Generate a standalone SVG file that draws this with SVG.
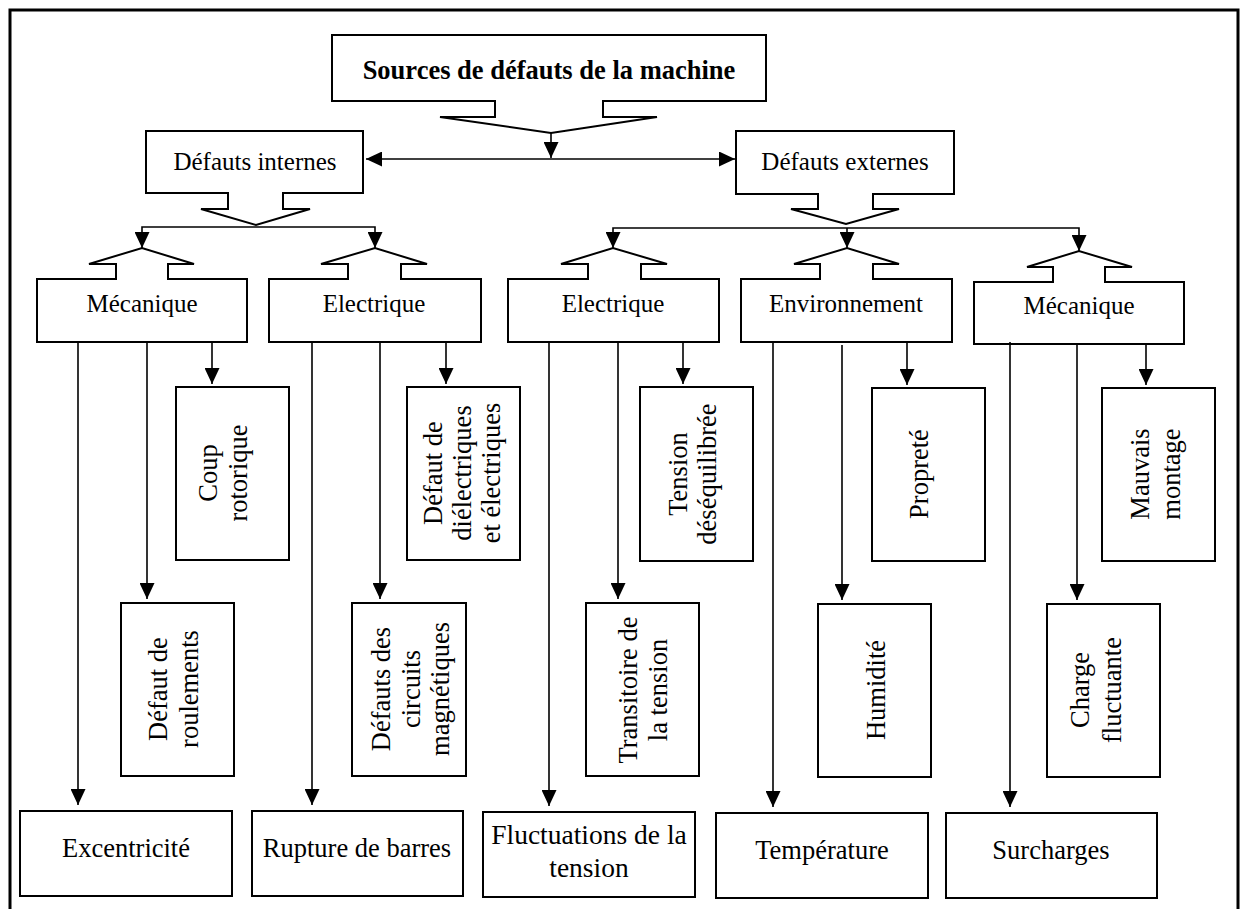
<svg xmlns="http://www.w3.org/2000/svg" width="1247" height="909" viewBox="0 0 1247 909">
<style>
.box{fill:#fff;stroke:#000;stroke-width:2}
.ln{fill:none;stroke:#000;stroke-width:1.6}
.t{font-family:"Liberation Serif","Times New Roman",serif;font-size:25px;fill:#000;text-anchor:middle}
.tv{font-family:"Liberation Serif","Times New Roman",serif;font-size:26.5px;fill:#000;text-anchor:middle}
.tb{font-family:"Liberation Serif","Times New Roman",serif;font-size:26.5px;font-weight:bold;fill:#000;text-anchor:middle}
</style>
<defs>
<marker id="ah" markerUnits="userSpaceOnUse" markerWidth="16" markerHeight="15" refX="16" refY="7.5" orient="auto-start-reverse">
<path d="M0,0 L16,7.5 L0,15 Z" fill="#000"/>
</marker>
</defs>
<rect width="1247" height="909" fill="#fff"/>
<path d="M10,909 V10 H1238 V909" fill="none" stroke="#000" stroke-width="3"/>

<g id="n-sources">
<path class="box" d="M332,35 H766 V101 H603 V117 H657 L551,133 L440,117 H495 V101 H332 Z"/>
<text class="tb" x="549" y="79">Sources de défauts de la machine</text>
</g>
<g id="n-internes">
<path class="box" d="M146,131 H363 V193 H283 V209 H310 L256,225 L201,209 H228 V193 H146 Z"/>
<text class="t" x="255" y="170">Défauts internes</text>
</g>
<g id="n-externes">
<path class="box" d="M736,131 H954 V194 H873 V209 H899 L846,224 L791,209 H818 V194 H736 Z"/>
<text class="t" x="845" y="170">Défauts externes</text>
</g>

<g id="n-int-meca">
<path class="box" d="M37,279 H116 V264 H89 L142,248 L194,264 H168 V279 H247 V342 H37 Z"/>
<text class="t" x="142" y="312">Mécanique</text>
</g>
<g id="n-int-elec">
<path class="box" d="M269,279 H348 V264 H321 L375,248 L427,264 H401 V279 H481 V342 H269 Z"/>
<text class="t" x="374" y="312">Electrique</text>
</g>
<g id="n-ext-elec">
<path class="box" d="M508,279 H588 V264 H561 L613,248 L667,264 H641 V279 H719 V342 H508 Z"/>
<text class="t" x="613" y="312">Electrique</text>
</g>
<g id="n-env">
<path class="box" d="M741,279 H820 V264 H794 L847,248 L899,264 H873 V279 H952 V342 H741 Z"/>
<text class="t" x="846" y="312">Environnement</text>
</g>
<g id="n-ext-meca">
<path class="box" d="M974,282 H1053 V267 H1027 L1079,251 L1132,267 H1105 V282 H1184 V344 H974 Z"/>
<text class="t" x="1079" y="314">Mécanique</text>
</g>

<g id="n-coup">
<rect class="box" x="176" y="387" width="113" height="173"/>
<text class="tv" transform="translate(217,473) rotate(-90)"><tspan x="0" y="0">Coup</tspan><tspan x="0" y="30">rotorique</tspan></text>
</g>
<g id="n-roulements">
<rect class="box" x="121" y="603" width="113" height="173"/>
<text class="tv" transform="translate(167,689) rotate(-90)"><tspan x="0" y="0">Défaut de</tspan><tspan x="0" y="31">roulements</tspan></text>
</g>
<g id="n-dielectriques">
<rect class="box" x="407" y="387" width="113" height="173"/>
<text class="tv" transform="translate(442,473) rotate(-90)"><tspan x="0" y="0">Défaut de</tspan><tspan x="0" y="29">diélectriques</tspan><tspan x="0" y="58">et électriques</tspan></text>
</g>
<g id="n-circuits">
<rect class="box" x="352" y="603" width="114" height="173"/>
<text class="tv" transform="translate(390,689) rotate(-90)"><tspan x="0" y="0">Défauts des</tspan><tspan x="0" y="30">circuits</tspan><tspan x="0" y="59">magnétiques</tspan></text>
</g>
<g id="n-desequilibree">
<rect class="box" x="640" y="387" width="113" height="174"/>
<text class="tv" transform="translate(687,474) rotate(-90)"><tspan x="0" y="0">Tension</tspan><tspan x="0" y="29">déséquilibrée</tspan></text>
</g>
<g id="n-transitoire">
<rect class="box" x="586" y="603" width="113" height="173"/>
<text class="tv" transform="translate(637,690) rotate(-90)"><tspan x="0" y="0">Transitoire de</tspan><tspan x="0" y="30">la tension</tspan></text>
</g>
<g id="n-proprete">
<rect class="box" x="872" y="388" width="113" height="173"/>
<text class="tv" transform="translate(928,474) rotate(-90)">Propreté</text>
</g>
<g id="n-humidite">
<rect class="box" x="818" y="604" width="113" height="173"/>
<text class="tv" transform="translate(885,690) rotate(-90)">Humidité</text>
</g>
<g id="n-montage">
<rect class="box" x="1102" y="388" width="113" height="173"/>
<text class="tv" transform="translate(1149,474) rotate(-90)"><tspan x="0" y="0">Mauvais</tspan><tspan x="0" y="31">montage</tspan></text>
</g>
<g id="n-charge">
<rect class="box" x="1047" y="604" width="113" height="173"/>
<text class="tv" transform="translate(1089,690) rotate(-90)"><tspan x="0" y="0">Charge</tspan><tspan x="0" y="32">fluctuante</tspan></text>
</g>

<g id="n-excentricite">
<rect class="box" x="20" y="811" width="212" height="85"/>
<text class="tv" x="126" y="857">Excentricité</text>
</g>
<g id="n-rupture">
<rect class="box" x="252" y="811" width="211" height="85"/>
<text class="tv" x="357" y="857">Rupture de barres</text>
</g>
<g id="n-fluctuations">
<rect class="box" x="483" y="812" width="212" height="85"/>
<text class="tv" style="font-size:27.5px" x="589" y="844">Fluctuations de la</text>
<text class="tv" style="font-size:27.5px" x="589" y="877">tension</text>
</g>
<g id="n-temperature">
<rect class="box" x="716" y="813" width="212" height="85"/>
<text class="tv" x="822" y="859">Température</text>
</g>
<g id="n-surcharges">
<rect class="box" x="946" y="813" width="211" height="85"/>
<text class="tv" x="1051" y="859">Surcharges</text>
</g>

<g id="connectors">
<line class="ln" x1="551" y1="133" x2="551" y2="158" marker-end="url(#ah)"/>
<line class="ln" x1="366" y1="159" x2="735" y2="159" marker-start="url(#ah)" marker-end="url(#ah)"/>
<polyline class="ln" points="142,248 142,227 375,227 375,248" marker-start="url(#ah)" marker-end="url(#ah)"/>
<polyline class="ln" points="613,248 613,228 1079,228 1079,251" marker-start="url(#ah)" marker-end="url(#ah)"/>
<line class="ln" x1="847" y1="228" x2="847" y2="248" marker-end="url(#ah)"/>

<line class="ln" x1="78" y1="341" x2="78" y2="805" marker-end="url(#ah)"/>
<line class="ln" x1="147" y1="342" x2="147" y2="599" marker-end="url(#ah)"/>
<line class="ln" x1="212" y1="342" x2="212" y2="384" marker-end="url(#ah)"/>
<line class="ln" x1="312" y1="341" x2="312" y2="805" marker-end="url(#ah)"/>
<line class="ln" x1="380" y1="342" x2="380" y2="599" marker-end="url(#ah)"/>
<line class="ln" x1="446" y1="342" x2="446" y2="384" marker-end="url(#ah)"/>
<line class="ln" x1="549" y1="341" x2="549" y2="806" marker-end="url(#ah)"/>
<line class="ln" x1="618" y1="342" x2="618" y2="599" marker-end="url(#ah)"/>
<line class="ln" x1="683" y1="342" x2="683" y2="384" marker-end="url(#ah)"/>
<line class="ln" x1="773" y1="342" x2="773" y2="807" marker-end="url(#ah)"/>
<line class="ln" x1="842" y1="345" x2="842" y2="600" marker-end="url(#ah)"/>
<line class="ln" x1="907" y1="342" x2="907" y2="385" marker-end="url(#ah)"/>
<line class="ln" x1="1010" y1="342" x2="1010" y2="807" marker-end="url(#ah)"/>
<line class="ln" x1="1077" y1="344" x2="1077" y2="600" marker-end="url(#ah)"/>
<line class="ln" x1="1146" y1="344" x2="1146" y2="385" marker-end="url(#ah)"/>
</g>
</svg>
